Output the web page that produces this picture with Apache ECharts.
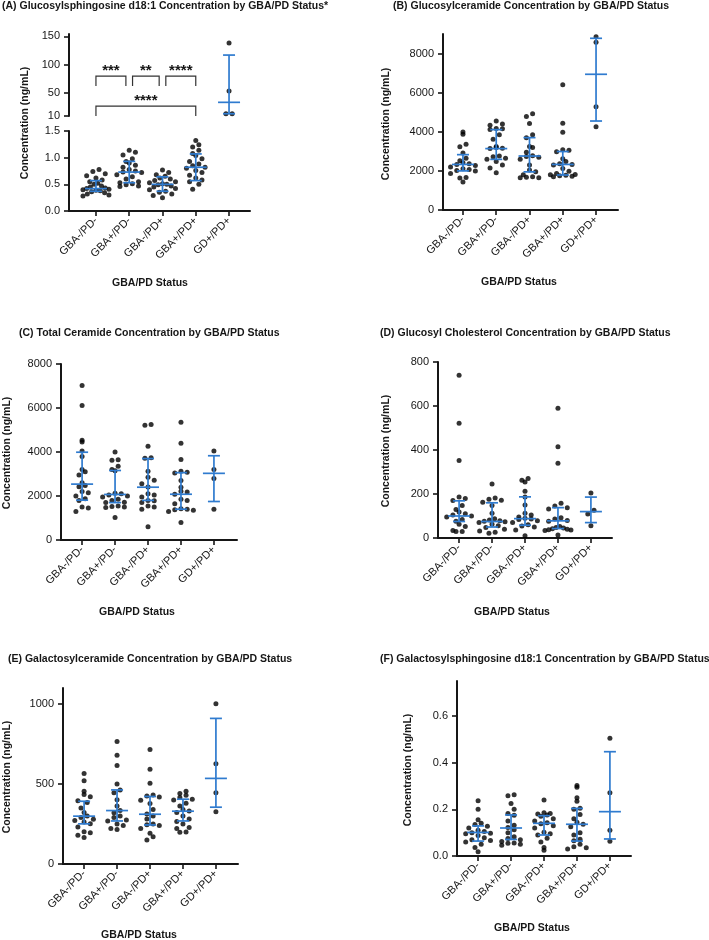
<!DOCTYPE html>
<html lang="en">
<head>
    <meta charset="UTF-8">
    <title>GBA/PD lipid concentrations</title>
    <style>
        html, body { margin: 0; padding: 0; background: #fff; }
        #main { width: 709px; height: 940px; }
    </style>
</head>
<body>
<div id="main"></div>
<script src="https://cdn.jsdelivr.net/npm/echarts@6/dist/echarts.min.js"></script>
<script>
    var categories = ['GBA-/PD-', 'GBA+/PD-', 'GBA-/PD+', 'GBA+/PD+', 'GD+/PD+'];

    // (A) glucosylsphingosine, ng/mL (GD+/PD+ sits on the upper axis segment)
    var glcSphValues = [
        [0.78, 0.74, 0.70, 0.66, 0.62, 0.58, 0.55, 0.52, 0.50, 0.47, 0.45, 0.43, 0.42, 0.41, 0.40, 0.39, 0.38, 0.36, 0.34, 0.32, 0.30, 0.28],
        [1.14, 1.10, 1.05, 0.98, 0.93, 0.90, 0.86, 0.82, 0.78, 0.75, 0.73, 0.72, 0.68, 0.64, 0.60, 0.55, 0.53, 0.51, 0.49, 0.47, 0.46],
        [0.77, 0.72, 0.68, 0.65, 0.62, 0.60, 0.57, 0.55, 0.53, 0.51, 0.50, 0.49, 0.47, 0.45, 0.42, 0.40, 0.37, 0.35, 0.32, 0.29, 0.25],
        [1.32, 1.24, 1.20, 1.14, 1.08, 1.04, 0.98, 0.93, 0.88, 0.85, 0.82, 0.80, 0.76, 0.72, 0.67, 0.62, 0.58, 0.55, 0.50, 0.41],
        [138, 54, 14, 14]
    ];
    // [q1, median, q3]
    var glcSphStats = [[0.37, 0.42, 0.57], [0.53, 0.73, 0.93], [0.37, 0.50, 0.64], [0.57, 0.82, 1.07], [14, 34, 117]];

    // significance brackets on panel A
    var sigFrom = [0, 1.1, 2.1, 0];
    var sigTo = [0.9, 1.9, 3, 3];
    var sigTop = [80, 80, 80, 27.5];
    var sigLeg = [62.5, 62.5, 62.5, 10];
    var sigLabels = ['***', '**', '****', '****'];

    // (B) glucosylceramide
    var glcCerValues = [
        [3990, 3870, 3360, 3230, 2920, 2650, 2520, 2420, 2370, 2330, 2280, 2200, 2110, 2070, 2020, 1990, 1870, 1660, 1640, 1430],
        [4550, 4400, 4330, 4170, 4150, 4120, 3850, 3620, 3250, 3200, 3160, 3140, 2760, 2720, 2650, 2600, 2480, 2300, 2150, 1900],
        [4920, 4780, 4420, 3850, 3700, 3250, 3200, 2950, 2780, 2740, 2700, 2600, 2300, 2050, 1950, 1800, 1700, 1680, 1650, 1650],
        [6400, 4430, 3980, 3080, 3050, 2980, 2620, 2480, 2360, 2330, 2300, 2120, 1980, 1870, 1820, 1800, 1780, 1750, 1720, 1700],
        [8860, 8580, 5280, 4260]
    ];
    var glcCerStats = [[2000, 2330, 2830], [2590, 3140, 4110], [1950, 2760, 3700], [1790, 2330, 2990], [4550, 6940, 8780]];

    // (C) total ceramide
    var totalCerValues = [
        [7020, 6110, 4530, 4450, 4050, 3800, 3200, 3100, 2950, 2600, 2480, 2420, 2200, 2150, 2000, 1870, 1800, 1500, 1450, 1300],
        [4000, 3650, 3620, 3350, 3200, 3150, 2120, 2100, 2050, 2000, 1960, 1850, 1800, 1720, 1700, 1550, 1520, 1500, 1480, 1020],
        [5250, 5220, 4260, 3740, 3720, 3120, 2850, 2720, 2560, 2410, 2100, 2050, 1960, 1800, 1780, 1700, 1550, 1500, 1400, 600],
        [5350, 4400, 3660, 3120, 3080, 3050, 2700, 2400, 2220, 2180, 2080, 1850, 1800, 1650, 1420, 1400, 1380, 1350, 1300, 800],
        [4050, 3200, 2800, 1400]
    ];
    var totalCerStats = [[1810, 2540, 3990], [1700, 2070, 3160], [1800, 2400, 3700], [1400, 2080, 3060], [1750, 3030, 3830]];

    // (D) glucosyl cholesterol
    var glcCholValues = [
        [740, 522, 352, 186, 180, 170, 148, 130, 118, 110, 104, 100, 96, 84, 76, 62, 52, 34, 30, 30],
        [246, 182, 176, 172, 162, 148, 112, 88, 82, 78, 76, 74, 70, 62, 56, 48, 40, 32, 26, 22],
        [270, 262, 254, 212, 186, 150, 112, 104, 96, 90, 86, 84, 78, 70, 60, 54, 50, 36, 10],
        [590, 415, 340, 158, 145, 138, 132, 92, 86, 80, 76, 52, 48, 46, 42, 40, 38, 36, 34, 14],
        [205, 126, 109, 56]
    ];
    var glcCholStats = [[75, 100, 169], [50, 75, 160], [58, 88, 187], [43, 78, 138], [70, 120, 186]];

    // (E) galactosylceramide
    var galCerValues = [
        [565, 520, 455, 435, 420, 395, 385, 350, 322, 300, 290, 280, 272, 262, 252, 232, 202, 196, 180, 165],
        [765, 680, 615, 500, 462, 445, 402, 362, 335, 320, 300, 290, 275, 268, 250, 240, 222, 215],
        [715, 592, 505, 432, 425, 418, 398, 378, 340, 312, 300, 282, 250, 246, 240, 222, 192, 170, 150],
        [455, 440, 430, 415, 405, 400, 380, 362, 340, 332, 322, 300, 282, 265, 250, 228, 222, 200, 198],
        [1002, 626, 445, 326]
    ];
    var galCerStats = [[251, 299, 392], [269, 334, 463], [244, 311, 422], [269, 330, 405], [355, 535, 910]];

    // (F) galactosylsphingosine
    var galSphValues = [
        [0.237, 0.200, 0.155, 0.140, 0.135, 0.128, 0.120, 0.110, 0.105, 0.100, 0.098, 0.095, 0.088, 0.078, 0.070, 0.066, 0.060, 0.050, 0.036, 0.018],
        [0.262, 0.258, 0.225, 0.200, 0.182, 0.175, 0.150, 0.132, 0.122, 0.112, 0.100, 0.082, 0.075, 0.070, 0.062, 0.056, 0.055, 0.050, 0.046],
        [0.240, 0.185, 0.182, 0.180, 0.176, 0.170, 0.160, 0.150, 0.142, 0.138, 0.130, 0.120, 0.102, 0.095, 0.090, 0.076, 0.060, 0.036, 0.025],
        [0.302, 0.295, 0.250, 0.235, 0.205, 0.200, 0.178, 0.160, 0.145, 0.136, 0.125, 0.100, 0.090, 0.072, 0.065, 0.050, 0.040, 0.035, 0.030],
        [0.505, 0.271, 0.110, 0.063]
    ];
    var galSphStats = [[0.064, 0.101, 0.129], [0.071, 0.120, 0.176], [0.090, 0.140, 0.173], [0.064, 0.136, 0.204], [0.073, 0.190, 0.447]];

    var blue = '#2f7bcf';
    var ink = '#161616';
    var font = '"Liberation Sans", Arial, sans-serif';
    var catTicks = [0, 1, 2, 3, 4];

    // layout of each panel (grids in px)
    var panels = [
        {grid: {left: 443, top: 34, width: 175, height: 176}, x: [-0.6, 4.66], y: [0, 9000], ticks: [0, 2000, 4000, 6000, 8000], dec: 0, values: glcCerValues, stats: glcCerStats},
        {grid: {left: 61, top: 364, width: 176, height: 176}, x: [-0.64, 4.7], y: [0, 8000], ticks: [0, 2000, 4000, 6000, 8000], dec: 0, values: totalCerValues, stats: totalCerStats},
        {grid: {left: 438, top: 362, width: 174, height: 176}, x: [-0.64, 4.64], y: [0, 800], ticks: [0, 200, 400, 600, 800], dec: 0, values: glcCholValues, stats: glcCholStats},
        {grid: {left: 63, top: 688, width: 175, height: 176}, x: [-0.64, 4.67], y: [0, 1100], ticks: [0, 500, 1000], dec: 0, values: galCerValues, stats: galCerStats},
        {grid: {left: 457, top: 681, width: 174, height: 175}, x: [-0.64, 4.64], y: [0, 0.75], ticks: [0, 0.2, 0.4, 0.6], dec: 1, values: galSphValues, stats: galSphStats}
    ];

    var titles = [
        ['(A) Glucosylsphingosine d18:1 Concentration by GBA/PD Status*', 2, 6],
        ['(B) Glucosylceramide Concentration by GBA/PD Status', 393, 6],
        ['(C) Total Ceramide Concentration by GBA/PD Status', 19, 333],
        ['(D) Glucosyl Cholesterol Concentration by GBA/PD Status', 380, 333],
        ['(E) Galactosylceramide Concentration by GBA/PD Status', 8, 659],
        ['(F) Galactosylsphingosine d18:1 Concentration by GBA/PD Status', 380, 659]
    ];
    var yNamePos = [[25, 123], [386, 124], [7, 453], [386, 451], [7, 777], [408, 770]];
    var xNamePos = [[150, 283], [519, 282], [137, 612], [512, 612], [139, 935], [532, 928]];

    // Prism-like scatter: bin values into rows, spread each row around the category
    function swarm(values, center, pxX, pxY) {
        var rows = {};
        values.forEach(function (v) {
            var b = Math.floor(v * pxY / 7);
            (rows[b] = rows[b] || []).push(v);
        });
        var out = [];
        Object.keys(rows).forEach(function (b) {
            var row = rows[b].sort(function (a, c) { return a - c; });
            var n = row.length;
            var gap = n > 5 ? 26 / (n - 1) : 6.2;
            // zigzag: alternate the slots from the two ends so rows don't slant
            var slots = [];
            for (var lo = 0, hi = n - 1; lo <= hi; lo++, hi--) {
                slots.push(lo);
                if (hi !== lo) slots.push(hi);
            }
            row.forEach(function (v, i) {
                var off = (slots[i] - (n - 1) / 2) * gap;
                out.push([center + off / pxX, v]);
            });
        });
        return out;
    }

    function renderIqr(params, api) {
        var x = api.value(0);
        var lo = api.coord([x, api.value(1)]);
        var md = api.coord([x, api.value(2)]);
        var hi = api.coord([x, api.value(3)]);
        var st = {stroke: blue, lineWidth: 1.7};
        function seg(x1, y1, x2, y2) {
            return {type: 'line', shape: {x1: x1, y1: y1, x2: x2, y2: y2}, style: st};
        }
        return {type: 'group', children: [
            seg(lo[0], lo[1], hi[0], hi[1]),
            seg(lo[0] - 6, lo[1], lo[0] + 6, lo[1]),
            seg(hi[0] - 6, hi[1], hi[0] + 6, hi[1]),
            seg(md[0] - 11, md[1], md[0] + 11, md[1])
        ]};
    }

    function renderBracket(params, api) {
        var s = api.value(0), e = api.value(1), top = api.value(2), leg = api.value(3);
        var p1 = api.coord([s, leg]), p2 = api.coord([s, top]);
        var p3 = api.coord([e, top]), p4 = api.coord([e, leg]);
        return {type: 'group', children: [
            {type: 'polyline', shape: {points: [p1, p2, p3, p4]}, style: {stroke: '#333', lineWidth: 1.2, fill: 'none'}},
            {type: 'text', style: {text: sigLabels[params.dataIndex], x: (p2[0] + p3[0]) / 2, y: p2[1] - 5,
                align: 'center', verticalAlign: 'middle', font: 'bold 15px ' + font, fill: ink}}
        ]};
    }

    function xAxisFor(gi, range, show) {
        return {
            type: 'value', gridIndex: gi, min: range[0], max: range[1],
            axisLine: {show: show, onZero: false, lineStyle: {color: ink, width: 2}},
            axisTick: {show: show, customValues: catTicks, length: 5, lineStyle: {color: ink, width: 1.6}},
            axisLabel: {show: show, customValues: catTicks, rotate: 45, margin: 8, fontSize: 11,
                color: ink, fontFamily: font,
                formatter: function (v) { return categories[Math.round(v)]; }},
            splitLine: {show: false}
        };
    }

    function yAxisFor(gi, range, ticks, dec) {
        return {
            type: 'value', gridIndex: gi, min: range[0], max: range[1],
            axisLine: {show: true, onZero: false, lineStyle: {color: ink, width: 2}},
            axisTick: {show: true, customValues: ticks, length: 5, lineStyle: {color: ink, width: 1.6}},
            axisLabel: {customValues: ticks, margin: 9, fontSize: 11, color: ink, fontFamily: font,
                formatter: function (v) { return v.toFixed(dec); }},
            splitLine: {show: false}
        };
    }

    var grids = [
        {left: 69, top: 34, width: 181, height: 82},
        {left: 69, top: 131, width: 181, height: 80}
    ];
    var xAxes = [xAxisFor(0, [-0.81, 4.63], false), xAxisFor(1, [-0.81, 4.63], true)];
    var yAxes = [yAxisFor(0, [10, 154], [10, 50, 100, 150], 0), yAxisFor(1, [0, 1.5], [0, 0.5, 1.0, 1.5], 1)];
    var series = [];

    function addGroupSeries(gi, center, values, stats, pxX, pxY) {
        series.push({
            type: 'scatter', xAxisIndex: gi, yAxisIndex: gi, symbolSize: 5,
            itemStyle: {color: '#000'}, z: 2, silent: true,
            data: swarm(values, center, pxX, pxY)
        });
        series.push({
            type: 'custom', xAxisIndex: gi, yAxisIndex: gi, renderItem: renderIqr, z: 3, clip: false,
            encode: {x: 0, y: [1, 2, 3]},
            data: [[center, stats[0], stats[1], stats[2]]]
        });
    }

    // panel A: GD+/PD+ on upper segment, the others on lower segment
    var pxXA = 181 / (4.63 + 0.81);
    for (var g = 0; g < 5; g++) {
        if (g < 4) addGroupSeries(1, g, glcSphValues[g], glcSphStats[g], pxXA, 80 / 1.5);
        else addGroupSeries(0, g, glcSphValues[g], glcSphStats[g], pxXA, 82 / 144);
    }
    series.push({
        type: 'custom', xAxisIndex: 0, yAxisIndex: 0, renderItem: renderBracket, z: 4, clip: false,
        encode: {x: [0, 1], y: [2, 3]},
        data: sigFrom.map(function (f, i) { return [f, sigTo[i], sigTop[i], sigLeg[i]]; })
    });

    panels.forEach(function (p) {
        var gi = grids.length;
        grids.push(p.grid);
        xAxes.push(xAxisFor(gi, p.x, true));
        yAxes.push(yAxisFor(gi, p.y, p.ticks, p.dec));
        var pxX = p.grid.width / (p.x[1] - p.x[0]);
        var pxY = p.grid.height / (p.y[1] - p.y[0]);
        for (var g = 0; g < 5; g++) addGroupSeries(gi, g, p.values[g], p.stats[g], pxX, pxY);
    });

    var texts = [];
    titles.forEach(function (t) {
        texts.push({type: 'text', x: t[1], y: t[2], style: {text: t[0], font: 'bold 10.5px ' + font,
            fill: ink, align: 'left', verticalAlign: 'middle'}});
    });
    yNamePos.forEach(function (p) {
        texts.push({type: 'text', x: p[0], y: p[1], rotation: Math.PI / 2, style: {text: 'Concentration (ng/mL)',
            font: 'bold 10.5px ' + font, fill: ink, align: 'center', verticalAlign: 'middle'}});
    });
    xNamePos.forEach(function (p) {
        texts.push({type: 'text', x: p[0], y: p[1], style: {text: 'GBA/PD Status',
            font: 'bold 10.5px ' + font, fill: ink, align: 'center', verticalAlign: 'middle'}});
    });

    var myChart = echarts.init(document.getElementById('main'), null, {renderer: 'canvas'});
    myChart.setOption({
        backgroundColor: '#fff',
        animation: false,
        grid: grids,
        xAxis: xAxes,
        yAxis: yAxes,
        series: series,
        graphic: texts
    });
</script>
</body>
</html>
